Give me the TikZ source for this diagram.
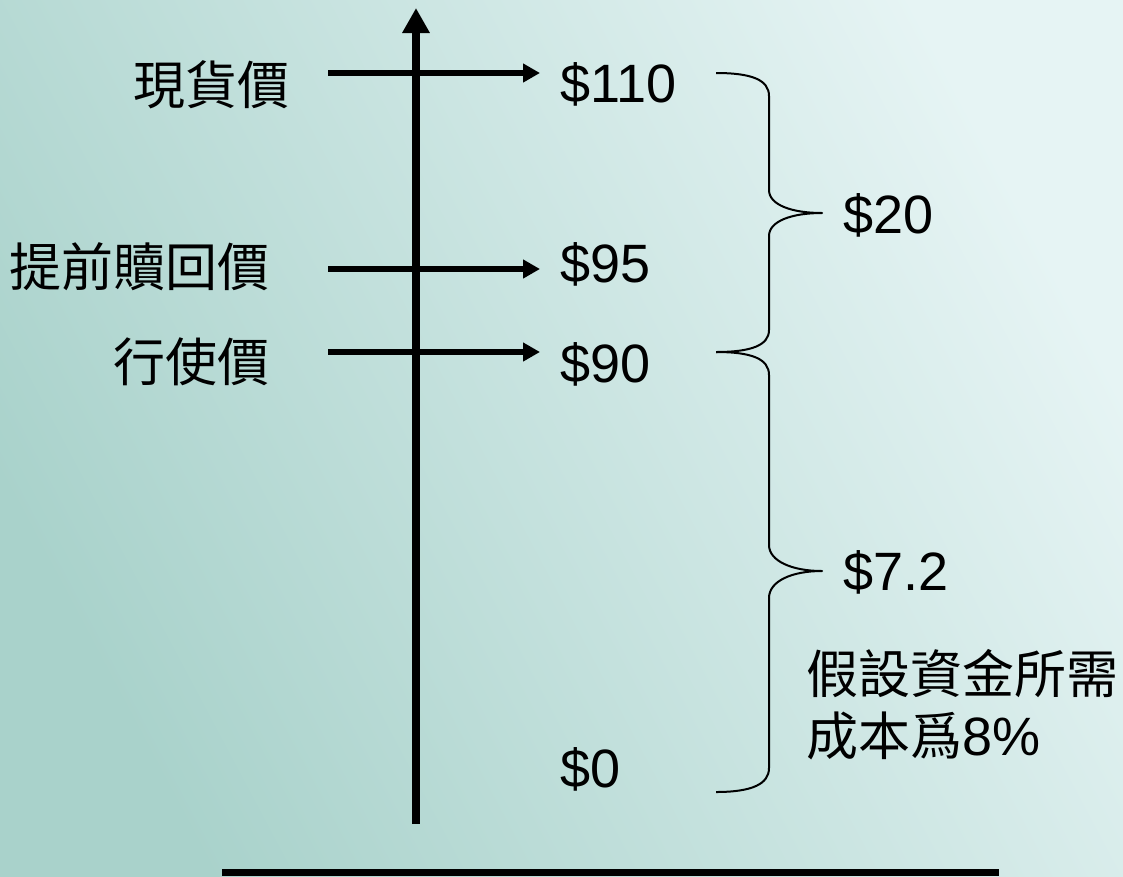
\documentclass[tikz,border=0pt]{standalone}
\usepackage{fontspec}
\setmainfont{Liberation Sans}
\newfontfamily\cjk{Noto Sans CJK TC}
\usetikzlibrary{arrows.meta}
\definecolor{bgdark}{HTML}{A9D2CB}
\definecolor{bglight}{HTML}{E6F4F4}
\begin{document}
\begin{tikzpicture}[x=1pt,y=-1pt,
  lbl/.style={inner sep=0pt,font=\fontsize{54}{62}\selectfont},
  cjklbl/.style={inner sep=0pt,font=\fontsize{52}{62}\selectfont\cjk},
  axisline/.style={line width=8pt,-{Triangle[length=25pt,width=26pt]}},
  harrow/.style={line width=6pt,-{Triangle[length=17pt,width=18pt]}},
  bracestyle/.style={line width=2pt,line join=round}]
\useasboundingbox (0,0) rectangle (1123,876);
\shade[top color=bglight,bottom color=bgdark,shading angle=-62] (0,0) rectangle (1123,876);
% axis
\coordinate (axB) at (416,824);
\coordinate (axT) at (416,8);
\draw[axisline] (axB) -- (axT);
% horizontal arrows
\coordinate (a1s) at (328,73);  \coordinate (a1e) at (540,73);
\coordinate (a2s) at (328,269); \coordinate (a2e) at (540,269);
\coordinate (a3s) at (328,352); \coordinate (a3e) at (540,352);
\draw[harrow] (a1s) -- (a1e);
\draw[harrow] (a2s) -- (a2e);
\draw[harrow] (a3s) -- (a3e);
% left labels
\node[cjklbl,anchor=base east] (spot) at (290,104) {現貨價};
\node[cjklbl,anchor=base east] (call) at (270,286) {提前贖回價};
\node[cjklbl,anchor=base east] (strike) at (270,381) {行使價};
% value labels
\node[lbl,anchor=base west] (v110) at (560,102) {\$110};
\node[lbl,anchor=base west] (v95) at (560,282) {\$95};
\node[lbl,anchor=base west] (v90) at (560,382) {\$90};
\node[lbl,anchor=base west] (v0) at (560,787) {\$0};
\node[lbl,anchor=base west] (v20) at (843,233) {\$20};
\node[lbl,anchor=base west] (v72) at (843,590) {\$7.2};
\node[cjklbl,anchor=base west] (note1) at (806,693) {假設資金所需};
\node[cjklbl,anchor=base west] (note2) at (806,755) {成本爲{\fontspec{Liberation Sans}\fontsize{54}{62}\selectfont 8\%}};
% braces
\draw[bracestyle] (716,73) .. controls (752,73) and (769,80) .. (769,96)
  -- (769,190) .. controls (769,205) and (792,213) .. (822,213)
  .. controls (792,213) and (769,221) .. (769,236)
  -- (769,330) .. controls (769,345) and (752,352) .. (716,352);
\draw[bracestyle] (716,352) .. controls (752,352) and (769,359) .. (769,375)
  -- (769,545) .. controls (769,561) and (792,571) .. (822,571)
  .. controls (792,571) and (769,581) .. (769,598)
  -- (769,768) .. controls (769,784) and (752,792) .. (716,792);
% bottom bar
\fill[black] (222,869) rectangle (999,876);
\end{tikzpicture}
\end{document}
